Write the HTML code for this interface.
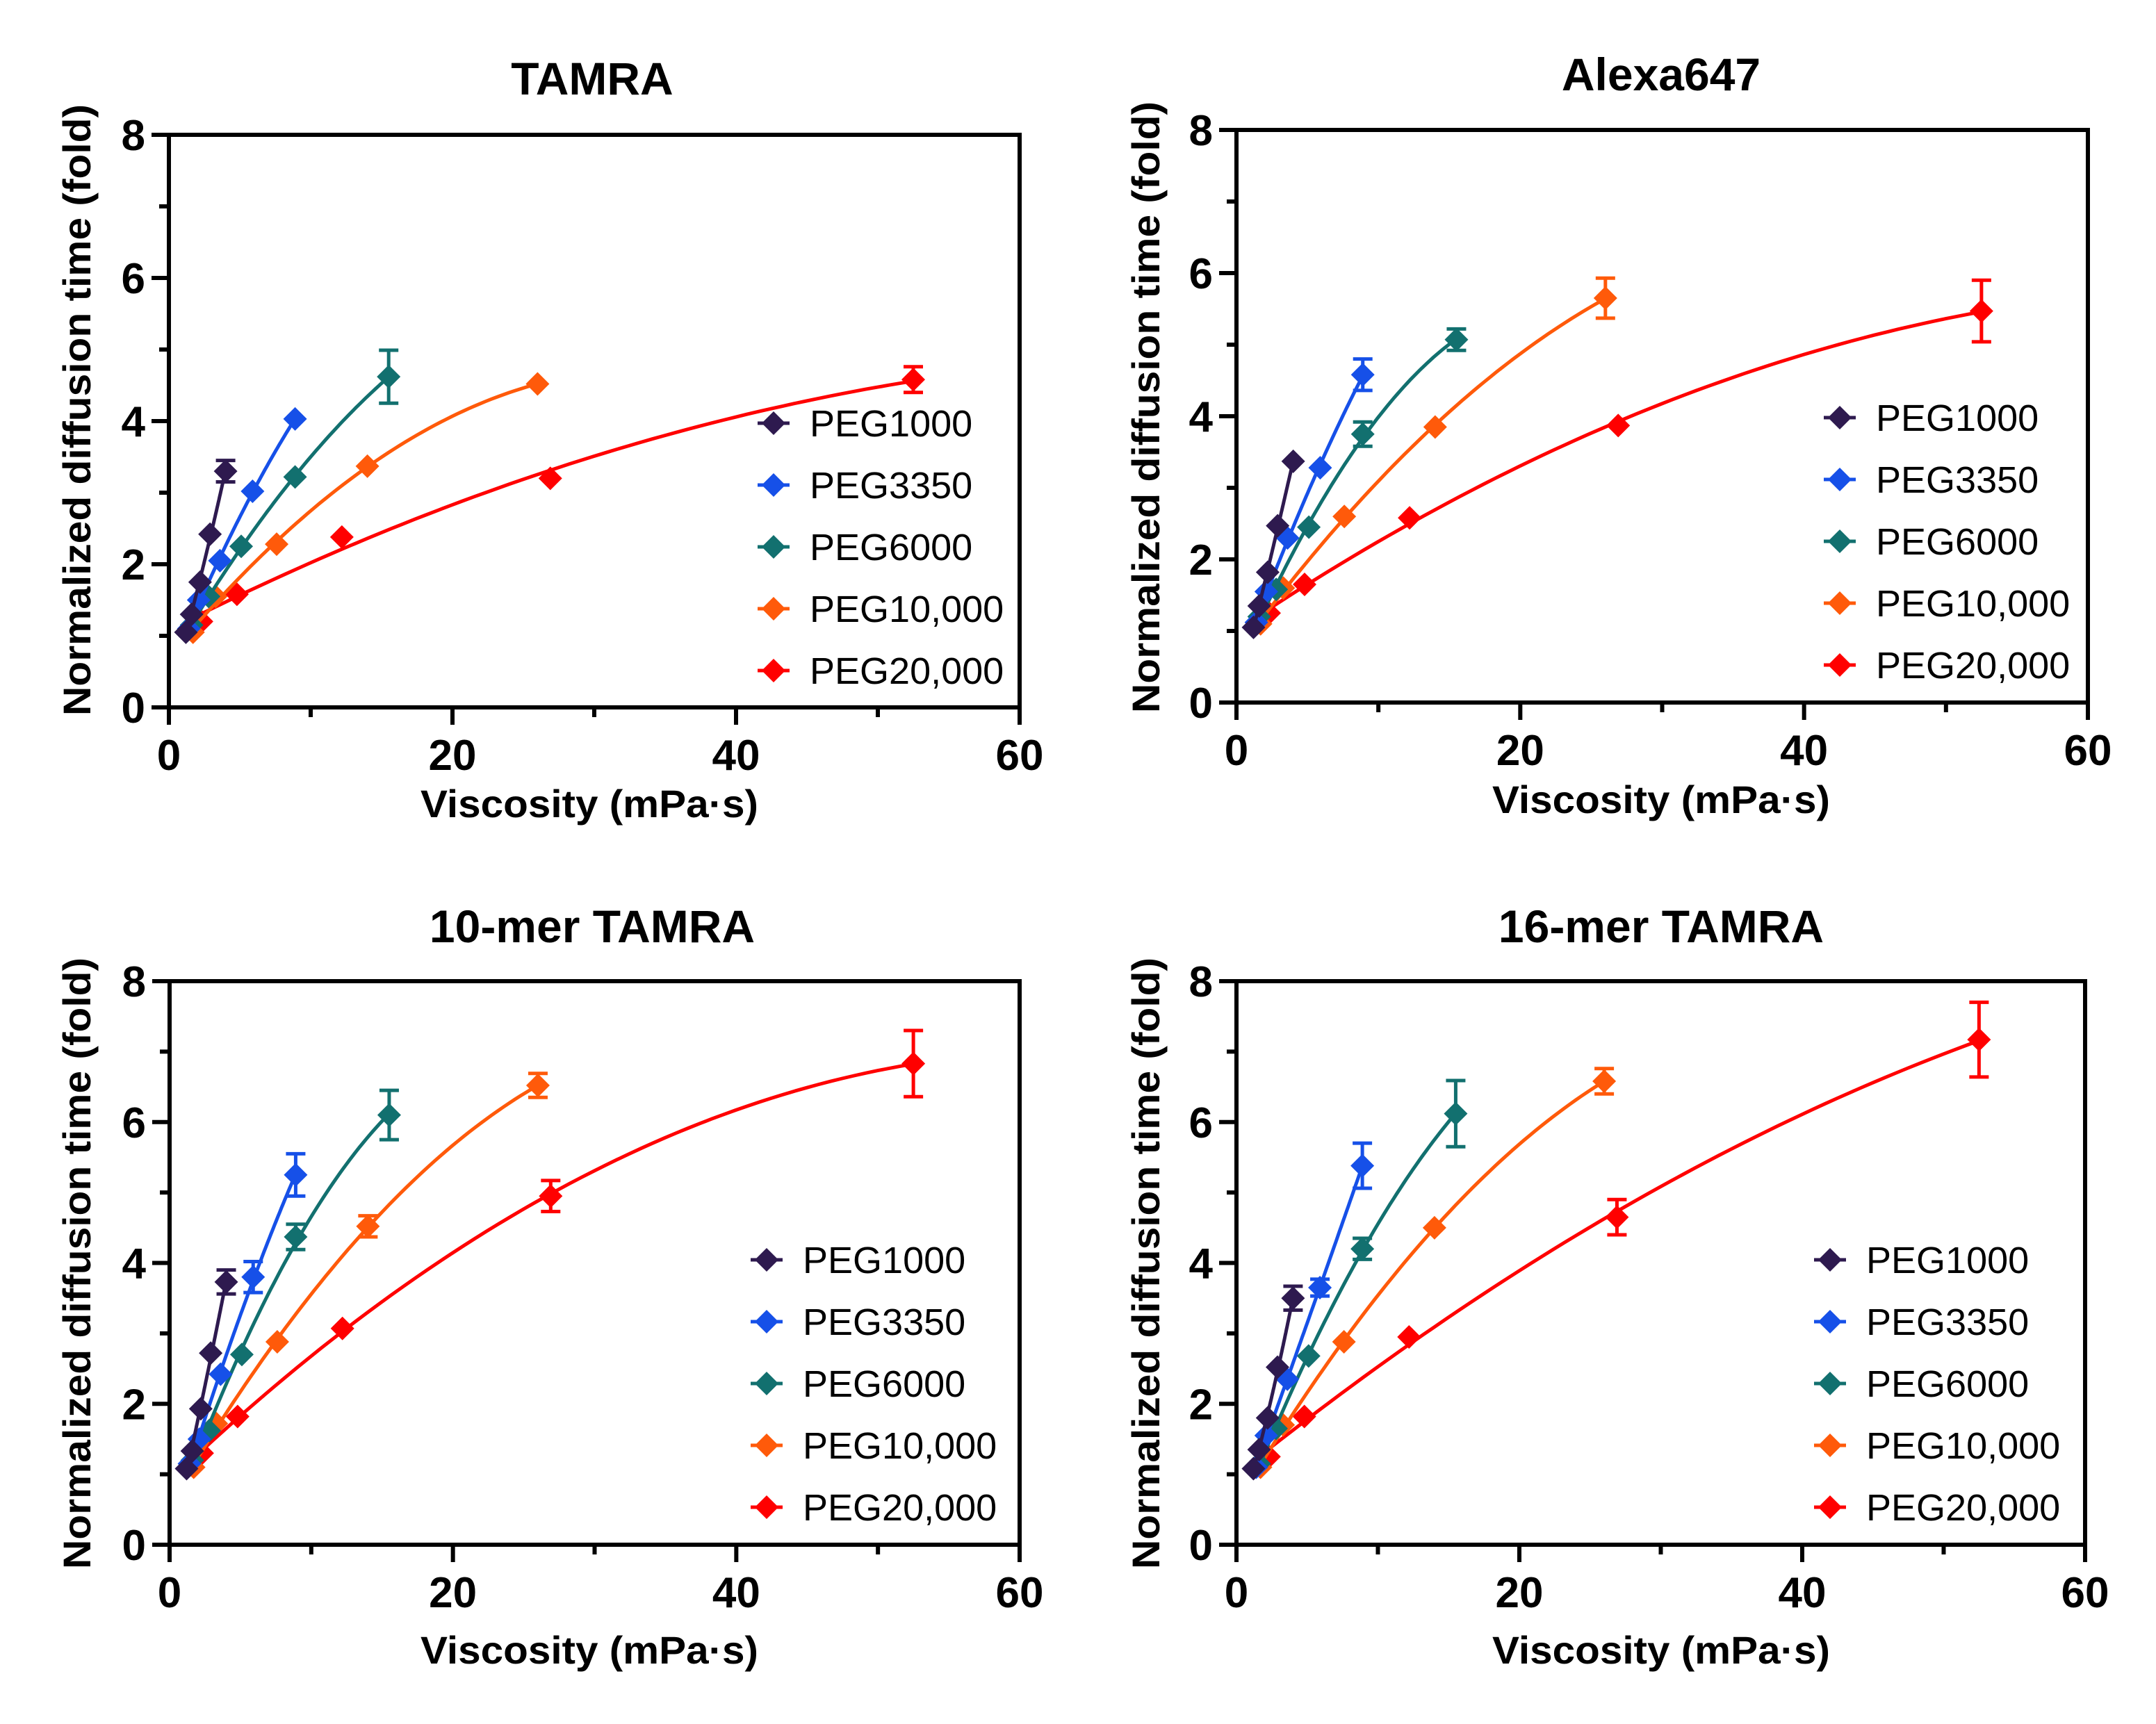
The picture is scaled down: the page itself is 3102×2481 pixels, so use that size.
<!DOCTYPE html>
<html><head><meta charset="utf-8">
<style>
html,body{margin:0;padding:0;background:#fff;}
svg{display:block;}
text{font-family:"Liberation Sans",Arial,sans-serif;}
</style></head>
<body>
<svg id="fig" width="3102" height="2481" viewBox="0 0 3102 2481" xmlns="http://www.w3.org/2000/svg"></svg>
<script>
// ---- data ----
const seriesNames = ["PEG1000","PEG3350","PEG6000","PEG10,000","PEG20,000"];
const seriesColors = ["#2e1a4f","#1650e8","#12706f","#ff5a0a","#ff0000"];
const viscPEG1000 = [1.2,1.6,2.2,2.9,4.0];
const viscPEG3350 = [1.4,2.1,3.6,5.9,8.9];
const viscPEG6000 = [1.6,2.8,5.1,8.9,15.5];
const viscPEG10000 = [1.7,3.3,7.6,14.0,26.0];
const viscPEG20000 = [2.3,4.8,12.2,26.9,52.5];
const xTicks = [0,20,40,60];
const yTicks = [0,2,4,6,8];
const panelTitles = ["TAMRA","Alexa647","10-mer TAMRA","16-mer TAMRA"];

const tamraVals = [[1.05,1.3,1.75,2.42,3.3],[1.1,1.5,2.05,3.02,4.03],[1.15,1.55,2.25,3.22,4.62],[1.05,1.55,2.28,3.37,4.52],[1.2,1.58,2.38,3.2,4.58]];
const tamraErr  = [[0,0,0,0,0.15],[0,0,0,0,0],[0,0,0,0,0.37],[0,0,0,0,0],[0,0,0,0,0.18]];
const alexaVals = [[1.05,1.35,1.82,2.47,3.37],[1.12,1.55,2.3,3.28,4.58],[1.2,1.58,2.45,3.75,5.07],[1.1,1.6,2.6,3.85,5.65],[1.25,1.65,2.58,3.87,5.47]];
const alexaErr  = [[0,0,0,0,0],[0,0,0,0,0.22],[0,0,0,0.17,0.15],[0,0,0,0,0.28],[0,0,0,0,0.43]];
const mer10Vals = [[1.08,1.33,1.93,2.72,3.73],[1.15,1.5,2.42,3.8,5.25],[1.2,1.62,2.7,4.37,6.1],[1.1,1.72,2.88,4.52,6.52],[1.3,1.82,3.07,4.95,6.83]];
const mer10Err  = [[0,0,0,0,0.17],[0,0,0,0.22,0.3],[0,0,0,0.18,0.35],[0,0,0,0.15,0.17],[0,0,0,0.22,0.47]];
const mer16Vals = [[1.08,1.35,1.8,2.52,3.5],[1.1,1.55,2.35,3.65,5.38],[1.15,1.65,2.68,4.2,6.12],[1.1,1.7,2.88,4.5,6.58],[1.25,1.82,2.95,4.65,7.17]];
const mer16Err  = [[0,0,0,0,0.17],[0,0,0,0.12,0.32],[0,0,0,0.15,0.47],[0,0,0,0,0.18],[0,0,0,0.25,0.53]];

const viscAll = [viscPEG1000,viscPEG3350,viscPEG6000,viscPEG10000,viscPEG20000];
const panelVals = [tamraVals,alexaVals,mer10Vals,mer16Vals];
const panelErrs = [tamraErr,alexaErr,mer10Err,mer16Err];

// ---- layout ----
const panels = [
 {l:243,r:1467,t:194,b:1018,title:[852,136],xt:[848,1176],yt:[110,590],leg:{mx:1113,tx:1165,y0:609}},
 {l:1779,r:3004,t:187,b:1011,title:[2390,130],xt:[2390,1170],yt:[1648,586],leg:{mx:2647,tx:2699,y0:601}},
 {l:244,r:1467,t:1412,b:2223,title:[852,1356],xt:[848,2394],yt:[110,1818],leg:{mx:1103,tx:1155,y0:1813}},
 {l:1779,r:3000,t:1412,b:2223,title:[2390,1356],xt:[2390,2394],yt:[1648,1818],leg:{mx:2633,tx:2685,y0:1813}}
];
const NS="http://www.w3.org/2000/svg";
const svg=document.getElementById('fig');
function mk(tag,attrs,parent){const e=document.createElementNS(NS,tag);for(const k in attrs)e.setAttribute(k,attrs[k]);(parent||svg).appendChild(e);return e;}
function diamond(cx,cy,h){return `M${cx},${cy-h}L${cx+h},${cy}L${cx},${cy+h}L${cx-h},${cy}Z`;}
function quadFit(xs,ys){
  let n=xs.length,S=[0,0,0,0,0],T=[0,0,0];
  for(let i=0;i<n;i++){let p=1;for(let k=0;k<5;k++){S[k]+=p;if(k<3)T[k]+=p*ys[i];p*=xs[i];}}
  const A=[[S[0],S[1],S[2],T[0]],[S[1],S[2],S[3],T[1]],[S[2],S[3],S[4],T[2]]];
  for(let i=0;i<3;i++){for(let j=i+1;j<3;j++){const f=A[j][i]/A[i][i];for(let k=i;k<4;k++)A[j][k]-=f*A[i][k];}}
  const c=[0,0,0];for(let i=2;i>=0;i--){let s=A[i][3];for(let k=i+1;k<3;k++)s-=A[i][k]*c[k];c[i]=s/A[i][i];}
  return x=>c[0]+c[1]*x+c[2]*x*x;
}

panels.forEach((P,pi)=>{
  const g=mk('g',{});
  
  
  const X=v=>P.l+(P.r-P.l)*v/60;
  const Y=v=>P.b-(P.b-P.t)*v/8;
  const fr=mk('rect',{x:P.l,y:P.t,width:P.r-P.l,height:P.b-P.t,fill:'none',stroke:'#000','stroke-width':6},g);
  
  
  for(let v=0;v<=8;v++){
    const major=v%2===0;
    const t=mk('line',{x1:P.l-(major?25:14),x2:P.l,y1:Y(v),y2:Y(v),stroke:'#000','stroke-width':6},g);
    
    
  }
  yTicks.forEach(v=>{
    const t=mk('text',{x:P.l-34,y:Y(v)+22,'text-anchor':'end','font-size':62,'font-weight':'bold'},g);
    t.textContent=v;
    
    
  });
  for(let v=0;v<=60;v+=10){
    const major=v%20===0;
    const t=mk('line',{x1:X(v),x2:X(v),y1:P.b,y2:P.b+(major?25:14),stroke:'#000','stroke-width':6},g);
    
    
  }
  xTicks.forEach(v=>{
    const t=mk('text',{x:X(v),y:P.b+90,'text-anchor':'middle','font-size':62,'font-weight':'bold'},g);
    t.textContent=v;
    
    
  });
  const tt=mk('text',{x:P.title[0],y:P.title[1],'text-anchor':'middle','font-size':66,'font-weight':'bold'},g);
  tt.textContent=panelTitles[pi];
  
  
  const xt=mk('text',{x:P.xt[0],y:P.xt[1],'text-anchor':'middle','font-size':56,'font-weight':'bold',textLength:486,lengthAdjust:'spacingAndGlyphs'},g);
  xt.textContent='Viscosity (mPa·s)';
  
  
  const yt=mk('text',{x:0,y:0,'text-anchor':'middle','font-size':56,'font-weight':'bold',textLength:880,lengthAdjust:'spacingAndGlyphs',transform:`translate(${P.yt[0]+20},${P.yt[1]}) rotate(-90)`},g);
  yt.textContent='Normalized diffusion time (fold)';
  
  
  const vals=panelVals[pi], errs=panelErrs[pi];
  [4,3,2,1,0].forEach(si=>{
    const xs=viscAll[si], ys=vals[si], es=errs[si], col=seriesColors[si];
    const sg=mk('g',{},g);
    
    
    const f=quadFit(xs,ys);
    const x0=xs[0],x1=xs[xs.length-1];
    let d='';
    for(let k=0;k<=60;k++){const x=x0+(x1-x0)*k/60;d+=(k?'L':'M')+X(x).toFixed(1)+','+Y(f(x)).toFixed(1);}
    const c=mk('path',{d:d,fill:'none',stroke:col,'stroke-width':5},sg);
    
    
    xs.forEach((x,i)=>{
      if(es[i]>0){
        const e=mk('path',{d:`M${X(x)},${Y(ys[i]-es[i])}V${Y(ys[i]+es[i])}M${X(x)-14},${Y(ys[i]+es[i])}h28M${X(x)-14},${Y(ys[i]-es[i])}h28`,stroke:col,'stroke-width':5,fill:'none'},sg);
        
        
      }
      const m=mk('path',{d:diamond(X(x),Y(ys[i]),17),fill:col},sg);
      
      
    });
  });
  seriesNames.forEach((nm,si)=>{
    const y=P.leg.y0+89*si;
    const lg=mk('g',{},g);
    
    
    mk('line',{x1:P.leg.mx-23,x2:P.leg.mx+23,y1:y,y2:y,stroke:seriesColors[si],'stroke-width':5},lg);
    mk('path',{d:diamond(P.leg.mx,y,17),fill:seriesColors[si]},lg);
    const t=mk('text',{x:P.leg.tx,y:y+19,'font-size':54},lg);
    t.textContent=nm;
  });
});
</script>
</body></html>
